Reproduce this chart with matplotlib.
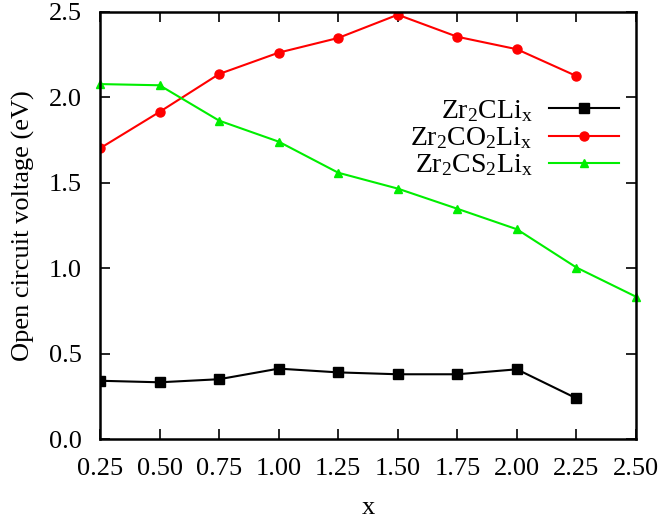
import matplotlib
matplotlib.use("Agg")
import matplotlib.pyplot as plt

x_vals = [0.25, 0.50, 0.75, 1.00, 1.25, 1.50, 1.75, 2.00, 2.25]
x_vals_cs2 = [0.25, 0.50, 0.75, 1.00, 1.25, 1.50, 1.75, 2.00, 2.25, 2.50]
zr2cli = [0.341, 0.332, 0.350, 0.412, 0.390, 0.379, 0.379, 0.408, 0.238]
zr2co2li = [1.702, 1.915, 2.137, 2.262, 2.348, 2.484, 2.355, 2.282, 2.125]
zr2cs2li = [2.078, 2.071, 1.864, 1.741, 1.559, 1.466, 1.348, 1.228, 1.004, 0.833]
labels = [r"Zr$_2$CLi$_\mathrm{x}$", r"Zr$_2$CO$_2$Li$_\mathrm{x}$", r"Zr$_2$CS$_2$Li$_\mathrm{x}$"]
xticks = [0.25, 0.50, 0.75, 1.00, 1.25, 1.50, 1.75, 2.00, 2.25, 2.50]
yticks = [0.0, 0.5, 1.0, 1.5, 2.0, 2.5]

plt.rcParams['font.family'] = ['Liberation Serif', 'DejaVu Serif']
plt.rcParams['mathtext.fontset'] = 'custom'
plt.rcParams['mathtext.rm'] = 'Liberation Serif'
plt.rcParams['mathtext.it'] = 'Liberation Serif'
plt.rcParams['font.size'] = 19

fig = plt.figure(figsize=(6.61, 5.24), dpi=100)
ax = fig.add_axes([100/661, 1 - 439/524, 536/661, 427/524])

ax.plot(x_vals, zr2cli, color='black', marker='s', markersize=6.5, lw=1.5, label=labels[0])
ax.plot(x_vals, zr2co2li, color='#ff0000', marker='o', markersize=6.5, lw=1.5, label=labels[1])
ax.plot(x_vals_cs2, zr2cs2li, color='#00ee00', marker='^', markersize=5.5, lw=1.5, label=labels[2], clip_on=False)

ax.set_xlim(0.25, 2.5)
ax.set_ylim(0, 2.5)
ax.set_xticks(xticks)
ax.set_xticklabels([f"{v:.2f}" for v in xticks])
ax.set_yticks(yticks)
ax.set_yticklabels([f"{v:.1f}" for v in yticks])
ax.tick_params(direction='in', length=7, width=1.2, top=True, right=True)
ax.tick_params(axis='x', pad=14)
ax.tick_params(axis='y', pad=13)
for s in ax.spines.values():
    s.set_linewidth(1.8)

ax.set_xlabel("x", labelpad=12)
ax.set_ylabel("Open circuit voltage (eV)", labelpad=10)

leg = ax.legend(loc='upper right', bbox_to_anchor=(1.004, 0.844), frameon=False,
                markerfirst=False, handlelength=2.52, handletextpad=0.58,
                labelspacing=0.05, borderpad=0.2, fontsize=20, numpoints=1)
for t in leg.get_texts():
    t.set_ha('right')

fig.savefig("out.png", dpi=100)
